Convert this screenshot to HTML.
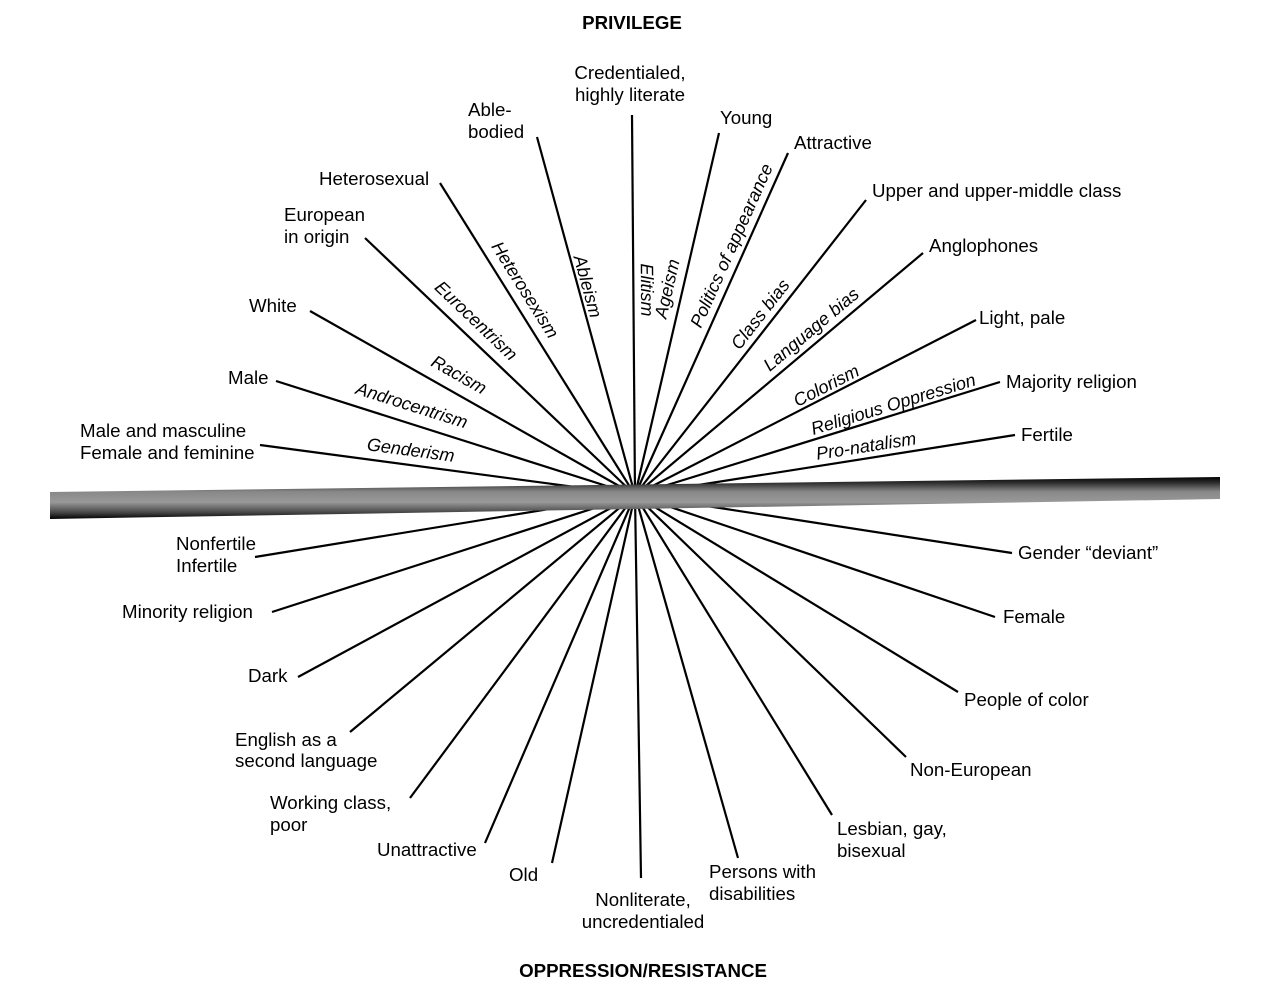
<!DOCTYPE html>
<html><head><meta charset="utf-8"><style>
html,body{margin:0;padding:0;background:#fff;}
svg{display:block;}
text{font-family:"Liberation Sans",sans-serif;font-size:18.7px;fill:#000;}
.i{font-style:italic;font-size:18px;}
.b{font-weight:bold;}
</style></head><body>
<svg width="1280" height="998" viewBox="0 0 1280 998" xmlns="http://www.w3.org/2000/svg">
<defs>
<linearGradient id="g" x1="0" y1="0" x2="0" y2="1">
<stop offset="0" stop-color="#000"/><stop offset="0.15" stop-color="#333"/><stop offset="0.35" stop-color="#888"/><stop offset="0.6" stop-color="#999"/><stop offset="0.85" stop-color="#444"/><stop offset="1" stop-color="#000"/>
</linearGradient>
</defs>
<g stroke="#000" stroke-width="2.2" fill="none">
<line x1="635" y1="495" x2="632" y2="115"/>
<line x1="635" y1="495" x2="537" y2="137"/>
<line x1="635" y1="495" x2="719" y2="133"/>
<line x1="635" y1="495" x2="788" y2="153"/>
<line x1="635" y1="495" x2="440" y2="183"/>
<line x1="635" y1="495" x2="866" y2="200"/>
<line x1="635" y1="495" x2="365" y2="238"/>
<line x1="635" y1="495" x2="923" y2="253"/>
<line x1="635" y1="495" x2="310" y2="311"/>
<line x1="635" y1="495" x2="976" y2="320"/>
<line x1="635" y1="495" x2="276" y2="381"/>
<line x1="635" y1="495" x2="1000" y2="382"/>
<line x1="635" y1="495" x2="260" y2="445"/>
<line x1="635" y1="495" x2="1015" y2="435"/>
<line x1="635" y1="495" x2="255" y2="557"/>
<line x1="635" y1="495" x2="1012" y2="553"/>
<line x1="635" y1="495" x2="272" y2="612"/>
<line x1="635" y1="495" x2="995" y2="617"/>
<line x1="635" y1="495" x2="298" y2="677"/>
<line x1="635" y1="495" x2="958" y2="692"/>
<line x1="635" y1="495" x2="350" y2="732"/>
<line x1="635" y1="495" x2="906" y2="757"/>
<line x1="635" y1="495" x2="410" y2="798"/>
<line x1="635" y1="495" x2="832" y2="815"/>
<line x1="635" y1="495" x2="485" y2="843"/>
<line x1="635" y1="495" x2="552" y2="863"/>
<line x1="635" y1="495" x2="738" y2="858"/>
<line x1="635" y1="495" x2="641" y2="878"/>
</g>
<polygon points="50,492 1220,477 1220,499 50,519" fill="url(#g)"/>
<text class="b" x="632" y="29" text-anchor="middle" font-size="19">PRIVILEGE</text>
<text class="b" x="643" y="977" text-anchor="middle" font-size="19">OPPRESSION/RESISTANCE</text>

<text x="630" y="79" text-anchor="middle">Credentialed,</text>
<text x="630" y="101" text-anchor="middle">highly literate</text>
<text x="468" y="116">Able-</text>
<text x="468" y="138">bodied</text>
<text x="720" y="124">Young</text>
<text x="794" y="149">Attractive</text>
<text x="319" y="185">Heterosexual</text>
<text x="872" y="197">Upper and upper-middle class</text>
<text x="284" y="221">European</text>
<text x="284" y="243">in origin</text>
<text x="929" y="252">Anglophones</text>
<text x="249" y="312">White</text>
<text x="979" y="324">Light, pale</text>
<text x="228" y="384">Male</text>
<text x="1006" y="388">Majority religion</text>
<text x="80" y="437">Male and masculine</text>
<text x="80" y="459">Female and feminine</text>
<text x="1021" y="441">Fertile</text>

<text x="176" y="550">Nonfertile</text>
<text x="176" y="572">Infertile</text>
<text x="1018" y="559">Gender “deviant”</text>
<text x="122" y="618">Minority religion</text>
<text x="1003" y="623">Female</text>
<text x="248" y="682">Dark</text>
<text x="964" y="706">People of color</text>
<text x="235" y="746">English as a</text>
<text x="235" y="767">second language</text>
<text x="910" y="776">Non-European</text>
<text x="270" y="809">Working class,</text>
<text x="270" y="831">poor</text>
<text x="837" y="835">Lesbian, gay,</text>
<text x="837" y="857">bisexual</text>
<text x="377" y="856">Unattractive</text>
<text x="509" y="881">Old</text>
<text x="709" y="878">Persons with</text>
<text x="709" y="900">disabilities</text>
<text x="643" y="906" text-anchor="middle">Nonliterate,</text>
<text x="643" y="928" text-anchor="middle">uncredentialed</text>

<text class="i" text-anchor="middle" transform="translate(520,293) rotate(58)">Heterosexism</text>
<text class="i" text-anchor="middle" transform="translate(582,288) rotate(74.7)">Ableism</text>
<text class="i" text-anchor="middle" transform="translate(641,290) rotate(89.5)">Elitism</text>
<text class="i" text-anchor="middle" transform="translate(472,325) rotate(43.6)">Eurocentrism</text>
<text class="i" text-anchor="middle" transform="translate(456,380) rotate(29.5)">Racism</text>
<text class="i" text-anchor="middle" transform="translate(410,411) rotate(17.6)">Androcentrism</text>
<text class="i" text-anchor="middle" transform="translate(410,456) rotate(7.6)">Genderism</text>
<text class="i" text-anchor="middle" transform="translate(673,290) rotate(-77)">Ageism</text>
<text class="i" text-anchor="middle" transform="translate(737,248) rotate(-65.9)">Politics of appearance</text>
<text class="i" text-anchor="middle" transform="translate(765,318) rotate(-52)">Class bias</text>
<text class="i" text-anchor="middle" transform="translate(815,334) rotate(-40)">Language bias</text>
<text class="i" text-anchor="middle" transform="translate(829,391) rotate(-27)">Colorism</text>
<text class="i" text-anchor="middle" transform="translate(895,410) rotate(-17)">Religious Oppression</text>
<text class="i" text-anchor="middle" transform="translate(867,452) rotate(-9)">Pro-natalism</text>
</svg>
</body></html>
